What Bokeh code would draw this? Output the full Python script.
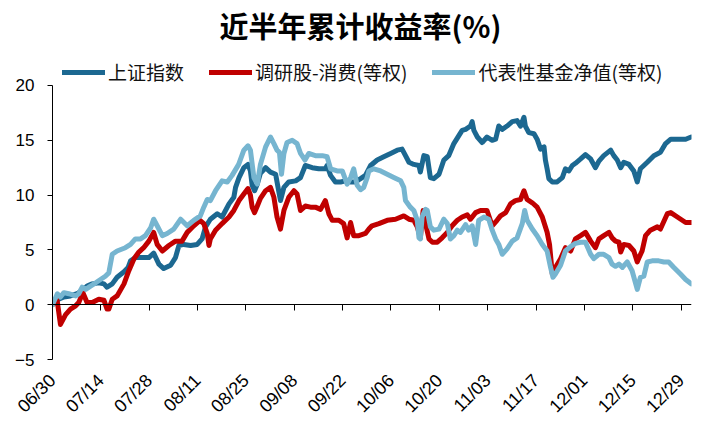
from math import pi
from bokeh.plotting import figure
from bokeh.models import Range1d, LinearAxis, FixedTicker, Legend, LegendItem, Label
from bokeh.embed import file_html
from bokeh.resources import INLINE

# x = calendar days since 06/30
tick_days = [0, 14, 28, 42, 56, 70, 84, 98, 112, 126, 140, 154, 168, 182]
tick_labels = ["06/30", "07/14", "07/28", "08/11", "08/25", "09/08", "09/22",
               "10/06", "10/20", "11/03", "11/17", "12/01", "12/15", "12/29"]

sh_days = [0, 1.8, 3.3, 5.2, 7.1, 8.6, 10.0, 11.5, 13.4, 14.9,
           15.8, 17.3, 18.7, 20.7, 21.9, 22.6, 24.0, 26.0, 27.9, 29.3,
           30.8, 32.2, 34.2, 35.6, 36.6, 38.0, 40.0, 41.9, 43.3, 44.3,
           45.7, 47.7, 49.1, 51.1, 52.5, 53.0, 54.0, 55.4, 56.6, 57.3,
           57.8, 58.5, 59.3, 60.2, 61.7, 63.1, 64.6, 66.0, 67.0, 68.4,
           70.4, 71.8, 73.2, 75.2, 77.1, 79.0, 79.5, 80.5, 81.9, 83.4,
           84.8, 86.3, 87.7, 89.2, 90.6, 92.1, 94.0, 95.9, 97.9, 99.8,
           101.2, 102.2, 103.2, 104.6, 106.1, 106.5, 107.5, 108.5, 109.4, 110.4,
           111.9, 113.3, 114.7, 116.2, 117.6, 118.6, 119.6, 121.0, 121.5, 122.0,
           123.0, 124.4, 125.8, 127.3, 128.3, 129.2, 130.2, 131.6, 133.1, 134.5,
           135.5, 136.5, 136.9, 137.9, 139.4, 140.3, 141.3, 142.3, 142.7, 143.2,
           143.7, 144.7, 146.1, 147.6, 148.5, 149.5, 150.5, 151.4, 152.9, 154.3,
           155.8, 157.2, 158.2, 159.6, 161.6, 162.5, 163.5, 164.5, 165.4, 166.9,
           168.3, 169.3, 170.2, 172.2, 174.1, 176.0, 177.5, 179.0, 180.9, 183.3,
           184.9]
sh_vals = [0, 0.5, 0.7, 0.8, 1.0, 1.3, 1.7, 1.9, 2.0, 1.9,
           1.6, 1.9, 2.5, 3.0, 3.4, 4.0, 4.3, 4.3, 4.3, 4.7,
           3.7, 3.3, 3.6, 4.3, 5.4, 5.5, 5.4, 5.5, 6.0, 7.1,
           7.8, 8.3, 8.0, 9.2, 9.8, 10.7, 11.6, 12.5, 12.8, 12.2,
           10.9, 10.4, 11.0, 12.0, 12.5, 12.1, 11.9, 9.5, 10.7, 11.2,
           11.3, 11.6, 12.7, 12.5, 12.4, 12.4, 12.7, 11.8, 11.2, 11.2,
           11.3, 11.2, 11.2, 11.5, 11.8, 12.7, 13.2, 13.5, 13.8, 14.1,
           14.2, 13.6, 13.0, 12.8, 12.7, 12.1, 13.6, 13.5, 11.6, 11.5,
           11.9, 13.2, 13.6, 14.7, 15.4, 15.9, 16.0, 16.3, 16.7, 15.9,
           15.3, 14.8, 15.3, 15.0, 15.1, 16.3, 16.0, 16.3, 16.7, 16.8,
           16.3, 17.1, 16.3, 15.7, 15.6, 15.1, 14.2, 14.4, 13.2, 12.4,
           11.5, 11.2, 11.2, 11.6, 12.4, 12.2, 12.7, 12.9, 13.3, 13.7,
           13.3, 12.5, 13.1, 13.6, 14.1, 13.6, 13.2, 12.5, 13.0, 12.8,
           12.2, 11.2, 12.4, 13.0, 13.6, 13.9, 14.7, 15.1, 15.1, 15.1,
           15.3]

ry_days = [0, 1.3, 2.3, 3.8, 5.2, 6.7, 7.6, 8.8, 10.0, 11.5,
           13.4, 14.9, 15.8, 16.3, 17.3, 18.7, 20.7, 22.1, 23.6, 25.0,
           26.4, 27.9, 29.3, 30.3, 31.8, 33.7, 35.6, 37.5, 39.0, 40.9,
           42.7, 43.8, 44.8, 45.3, 45.7, 47.2, 49.1, 51.1, 52.5, 54.0,
           55.4, 56.6, 57.3, 57.8, 58.5, 59.3, 60.2, 61.7, 63.1, 64.1,
           65.0, 66.0, 67.0, 68.4, 69.9, 70.8, 71.8, 73.2, 74.7, 76.1,
           77.6, 79.0, 80.0, 81.0, 82.9, 84.3, 85.3, 86.3, 87.2, 88.7,
           90.6, 91.6, 92.5, 94.5, 96.9, 99.3, 101.7, 103.2, 104.6, 105.6,
           106.5, 107.3, 108.0, 109.0, 110.0, 111.4, 112.8, 114.3, 115.7, 117.2,
           118.6, 120.1, 121.0, 122.5, 123.9, 125.8, 127.3, 128.7, 129.7, 131.2,
           132.6, 134.0, 135.5, 136.5, 137.4, 138.9, 140.3, 141.8, 143.2, 143.9,
           144.7, 145.6, 147.1, 148.5, 150.0, 151.4, 152.9, 154.3, 155.8, 157.2,
           158.2, 159.6, 161.1, 162.0, 163.0, 164.0, 164.5, 165.4, 166.9, 168.3,
           169.3, 169.8, 170.7, 171.7, 173.1, 175.1, 176.0, 178.0, 179.0, 180.9,
           183.3, 184.9]
ry_vals = [0, 0.5, -1.8, -0.9, -0.4, -0.1, 0.2, 1.1, 0.2, 0.2,
           0.5, 0.4, -0.4, -0.4, 0.5, 0.8, 1.9, 3.1, 4.2, 4.8,
           5.2, 5.8, 6.6, 5.5, 4.9, 5.4, 5.8, 5.8, 6.6, 7.2,
           7.7, 7.4, 6.5, 5.4, 6.0, 6.8, 7.4, 8.0, 8.6, 9.5,
           10.1, 10.6, 10.0, 8.9, 8.4, 9.0, 9.7, 10.4, 10.7, 9.8,
           8.0, 6.9, 8.6, 9.8, 10.4, 10.1, 8.6, 9.0, 8.9, 8.9,
           8.7, 9.5, 8.3, 7.7, 7.7, 7.4, 6.1, 7.5, 6.3, 6.3,
           6.5, 6.9, 7.2, 7.4, 7.7, 7.8, 8.1, 7.8, 7.7, 7.1,
           6.1, 8.6, 7.4, 6.0, 5.7, 5.7, 6.1, 6.6, 7.2, 7.7,
           8.0, 8.2, 7.8, 8.4, 8.6, 8.6, 7.2, 7.7, 8.1, 8.4,
           9.2, 9.5, 9.6, 10.4, 9.6, 9.3, 8.9, 8.0, 6.6, 5.5,
           2.8, 3.4, 4.2, 5.2, 4.9, 6.0, 6.3, 6.6, 5.8, 5.2,
           6.0, 6.3, 6.6, 6.1, 5.8, 5.7, 4.8, 5.5, 5.4, 4.9,
           3.9, 4.3, 4.9, 6.3, 6.8, 7.1, 6.9, 8.3, 8.4, 8.0,
           7.5, 7.5]

fund_days = [0, 1.4, 2.3, 3.3, 4.7, 6.7, 7.6, 8.6, 9.6, 11.0,
             12.5, 13.9, 15.3, 16.3, 17.3, 18.7, 21.1, 22.6, 24.0, 25.5,
             26.9, 28.4, 29.3, 30.3, 31.8, 33.2, 35.1, 37.1, 39.0, 40.9,
             42.8, 43.8, 44.8, 45.7, 47.2, 49.1, 50.6, 52.0, 53.9, 55.4,
             56.6, 57.3, 58.3, 59.3, 60.2, 61.7, 63.1, 64.1, 65.0, 65.7,
             66.3, 67.0, 67.9, 69.4, 70.8, 71.8, 73.1, 74.2, 76.1, 78.1,
             79.5, 80.5, 82.4, 83.9, 85.3, 86.3, 87.2, 88.2, 89.2, 90.1,
             91.1, 91.6, 93.0, 95.0, 96.9, 98.8, 100.8, 101.7, 102.2, 103.6,
             104.6, 105.6, 106.1, 106.5, 107.0, 108.0, 108.5, 109.4, 110.4, 111.9,
             113.3, 114.3, 115.2, 116.2, 117.2, 118.1, 119.6, 120.5, 121.5, 122.5,
             123.4, 124.9, 126.3, 127.3, 128.3, 129.2, 130.2, 131.6, 133.1, 134.5,
             136.0, 136.7, 137.4, 138.9, 140.3, 141.8, 143.2, 144.2, 144.9, 145.6,
             147.1, 148.5, 150.0, 151.4, 152.9, 154.3, 155.8, 156.7, 158.2, 159.6,
             161.1, 162.0, 163.0, 164.0, 165.0, 166.4, 167.8, 169.3, 170.2, 171.2,
             172.2, 173.6, 175.5, 177.0, 178.4, 179.9, 181.8, 183.3, 184.9]
fund_vals = [0, 1.0, 0.7, 1.1, 1.0, 0.8, 1.0, 1.6, 1.4, 1.7,
             2.0, 2.3, 2.6, 2.9, 4.6, 4.9, 5.2, 5.5, 6.0, 6.0,
             6.3, 7.0, 7.8, 7.2, 6.3, 6.5, 6.9, 7.8, 7.2, 7.7,
             8.1, 8.9, 9.6, 9.5, 10.4, 11.3, 11.2, 11.8, 12.8, 14.1,
             14.5, 14.1, 11.6, 11.0, 12.8, 14.4, 15.3, 14.7, 14.1, 13.9,
             11.9, 13.8, 14.8, 15.0, 14.7, 13.8, 13.2, 13.8, 13.6, 13.6,
             13.5, 12.4, 12.2, 12.2, 11.0, 11.6, 12.4, 10.9, 10.5, 10.7,
             11.6, 12.2, 12.4, 12.2, 11.9, 11.6, 11.3, 10.7, 9.5, 8.9,
             8.6, 7.7, 6.1, 6.0, 8.0, 8.7, 8.6, 7.1, 6.8, 6.9,
             7.8, 7.4, 6.0, 6.3, 6.8, 6.6, 7.3, 6.8, 7.2, 5.5,
             7.7, 8.0, 7.8, 6.8, 6.0, 5.5, 4.6, 5.1, 5.8, 6.1,
             7.4, 8.6, 7.7, 6.9, 6.3, 5.5, 4.9, 3.4, 2.5, 2.8,
             3.6, 4.9, 5.3, 5.6, 5.7, 5.7, 4.6, 4.2, 4.6, 4.6,
             4.3, 3.7, 3.5, 3.7, 3.4, 3.9, 3.1, 1.4, 2.5, 2.6,
             3.9, 4.0, 4.0, 3.9, 3.9, 3.4, 2.8, 2.3, 1.9]

chart_title = "近半年累计收益率(%)"
series_names = ["上证指数", "调研股-消费(等权)", "代表性基金净值(等权)"]
y_ticks = [-5, 0, 5, 10, 15, 20]

C_SH = "#1c6891"
C_RY = "#c00000"
C_FUND = "#76b5d0"

# the frame runs up to the top of the canvas so that title and legend sit inside it;
# the y axis itself stops at 20
p = figure(width=706, height=426, output_backend="svg", toolbar_location=None,
           title=None,
           x_range=Range1d(0, 185), y_range=Range1d(-5, 27.755),
           min_border_left=52, min_border_right=15, min_border_top=0, min_border_bottom=67,
           x_axis_location=None, y_axis_location=None)
p.outline_line_color = None
p.xgrid.visible = False
p.ygrid.visible = False
p.background_fill_color = "white"
p.border_fill_color = "white"

r1 = p.line(sh_days, sh_vals, line_color=C_SH, line_width=5, line_join="round", line_cap="round")
r2 = p.line(ry_days, ry_vals, line_color=C_RY, line_width=5, line_join="round", line_cap="round")
r3 = p.line(fund_days, fund_vals, line_color=C_FUND, line_width=5, line_join="round", line_cap="round")

tick_font = "Liberation Sans"

yaxis = LinearAxis(ticker=FixedTicker(ticks=y_ticks), bounds=(-5, 20))
yaxis.axis_line_color = "black"
yaxis.major_tick_line_color = "black"
yaxis.major_tick_out = 5
yaxis.major_tick_in = 0
yaxis.minor_tick_line_color = None
yaxis.major_label_standoff = 13
yaxis.major_label_text_font = tick_font
yaxis.major_label_text_font_size = "17px"
yaxis.major_label_text_color = "black"
p.add_layout(yaxis, "left")

# label axis at the bottom
xlab = LinearAxis(ticker=FixedTicker(ticks=tick_days))
xlab.major_label_overrides = {d: t for d, t in zip(tick_days, tick_labels)}
xlab.axis_line_color = None
xlab.major_tick_line_color = None
xlab.minor_tick_line_color = None
xlab.major_label_orientation = pi / 4
xlab.major_label_standoff = 12
xlab.major_label_text_font = tick_font
xlab.major_label_text_font_size = "18px"
xlab.major_label_text_color = "black"
p.add_layout(xlab, "below")

# zero line axis with ticks (drawn at y = 0)
xzero = LinearAxis(ticker=FixedTicker(ticks=tick_days), fixed_location=0)
xzero.axis_line_color = "black"
xzero.major_tick_line_color = "black"
xzero.major_tick_out = 6
xzero.major_tick_in = 0
xzero.minor_tick_line_color = None
xzero.major_label_text_font_size = "0px"
xzero.major_label_text_alpha = 0
p.add_layout(xzero, "below")

legend = Legend(items=[LegendItem(label=series_names[0], renderers=[r1]),
                       LegendItem(label=series_names[1], renderers=[r2]),
                       LegendItem(label=series_names[2], renderers=[r3])],
                orientation="horizontal", location=(10, 274),
                glyph_width=43, glyph_height=18, label_standoff=3, spacing=25,
                padding=0, margin=0, border_line_color=None, background_fill_alpha=0,
                label_text_font="Noto Sans CJK SC", label_text_font_size="19px",
                label_text_color="#111111", label_height=18)
p.add_layout(legend, "center")

title = Label(x=308, y=335, x_units="screen", y_units="screen", text=chart_title,
              text_align="center", text_baseline="middle",
              text_font="Noto Sans CJK SC", text_font_size="29px",
              text_font_style="bold", text_color="black")
p.add_layout(title)

open("out.html", "w").write(file_html(p, INLINE))
